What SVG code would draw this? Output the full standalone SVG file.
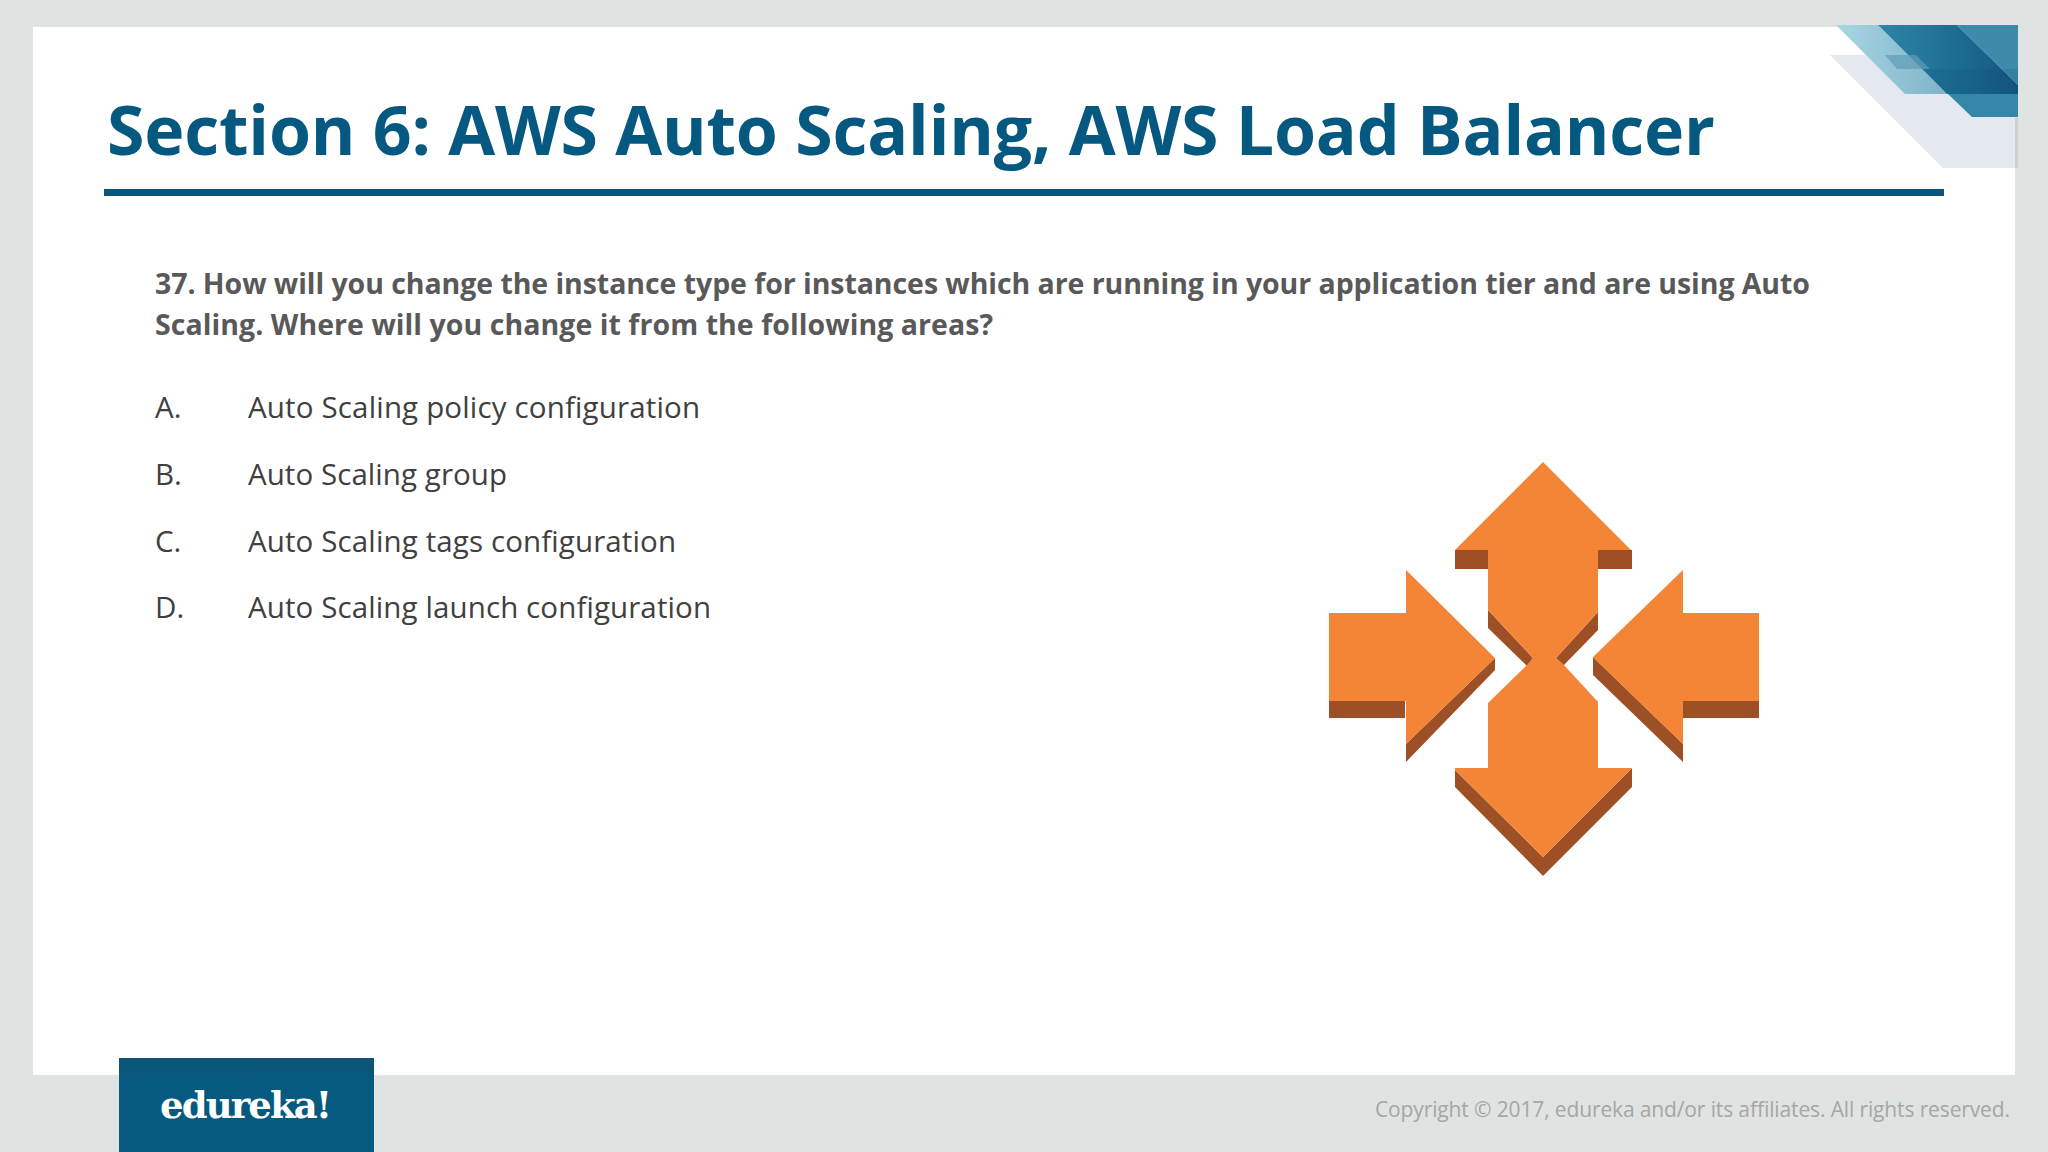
<svg xmlns="http://www.w3.org/2000/svg" width="2048" height="1152" viewBox="0 0 2048 1152">
<defs>
<style>
.t{font-family:"Open Sans","Noto Sans",sans-serif}
.q{font-size:28.5px;font-weight:700;fill:#595959}
.o{font-size:29.5px;fill:#404040}
.f{fill:#f58536}
.s{fill:#9d5025}
</style>
<linearGradient id="g1" x1="0" y1="0" x2="1" y2="0"><stop offset="0" stop-color="#2e86a8"/><stop offset="0.6" stop-color="#1c6a90"/><stop offset="1" stop-color="#14557e"/></linearGradient>
<linearGradient id="g2" x1="0" y1="0" x2="1" y2="0"><stop offset="0" stop-color="#a8d6e4"/><stop offset="1" stop-color="#7fb3c8"/></linearGradient>
<linearGradient id="g3" x1="0" y1="0" x2="0" y2="1"><stop offset="0" stop-color="#0d5576"/><stop offset="0.25" stop-color="#06597f"/></linearGradient>
</defs>
<rect width="2048" height="1152" fill="#dfe3e2"/>
<rect x="33" y="27" width="1982" height="1048" fill="#fff"/>
<g id="corner">
<polygon points="1830,55 2015,55 2015,168 1943,168" fill="#e4e9ef"/>
<rect x="2015" y="118" width="3" height="50" fill="#cdd1d6"/>
<polygon points="1836,25 1878,25 1947,94 1905,94" fill="url(#g2)"/>
<polygon points="1948,94 2018,94 2018,117 1972,117" fill="#3587a9"/>
<polygon points="1878,25 1957,25 2018,85 2018,94 1947,94" fill="url(#g1)"/>
<polygon points="1957,25 2018,25 2018,85" fill="#3d8aab"/>
<polygon points="1885,55 1916,55 1930,69 1897,69" fill="#5f9db5" opacity=".7"/>
<polygon points="1925,69 2018,69 2018,94 1947,94" fill="#0d4f78" opacity=".18"/>
</g>
<rect x="104" y="189" width="1840" height="7" fill="#05557f"/>
<text class="t" x="107" y="155" font-size="68" font-weight="700" fill="#05587f" textLength="1608">Section 6: AWS Auto Scaling, AWS Load Balancer</text>
<g id="question">
<text class="t q" x="155" y="294" textLength="1655">37. How will you change the instance type for instances which are running in your application tier and are using Auto</text>
<text class="t q" x="155" y="335" textLength="838">Scaling. Where will you change it from the following areas?</text>
</g>
<g id="options">
<text class="t o" x="155" y="418">A.</text><text class="t o" x="248" y="418" textLength="452">Auto Scaling policy configuration</text>
<text class="t o" x="155" y="485">B.</text><text class="t o" x="248" y="485" textLength="259">Auto Scaling group</text>
<text class="t o" x="155" y="552">C.</text><text class="t o" x="248" y="552" textLength="428">Auto Scaling tags configuration</text>
<text class="t o" x="155" y="618">D.</text><text class="t o" x="248" y="618" textLength="463">Auto Scaling launch configuration</text>
</g>
<g id="autoscaling-icon">
<polygon class="s" points="1455,550 1488,550 1488,569 1455,569"/>
<polygon class="s" points="1598,550 1632,550 1632,569 1598,569"/>
<polygon class="s" points="1488,610 1533,658 1527,666 1488,628"/>
<polygon class="s" points="1598,612 1556,658 1563,666 1598,630"/>
<polygon class="f" points="1543,462 1631,550 1598,550 1598,612 1556,658 1533,658 1488,610 1488,550 1455,550"/>
<polygon class="s" points="1329,701 1405,701 1405,718 1329,718"/>
<polygon class="s" points="1406,744 1495,658 1495,670 1406,762"/>
<polygon class="f" points="1329,613 1406,613 1406,570 1495,658 1406,744 1406,701 1329,701"/>
<polygon class="s" points="1759,701 1683,701 1683,718 1759,718"/>
<polygon class="s" points="1683,744 1593,657 1593,675 1683,762"/>
<polygon class="f" points="1759,613 1683,613 1683,570 1593,657 1683,744 1683,701 1759,701"/>
<polygon class="s" points="1455,770 1543,857 1632,768 1632,787 1543,876 1455,787"/>
<polygon class="f" points="1528,664 1533,658 1556,658 1563,664 1598,702 1598,768 1632,768 1543,857 1455,770 1455,768 1488,768 1488,703"/>
</g>
<g id="logo">
<rect x="119" y="1058" width="255" height="94" fill="url(#g3)"/>
<text x="160" y="1118" font-family="'DejaVu Serif',serif" font-weight="700" font-size="37" fill="#fff" textLength="172">edureka!</text>
</g>
<text class="t" x="1375" y="1117" font-size="21" fill="#a6a6a6" textLength="635">Copyright © 2017, edureka and/or its affiliates. All rights reserved.</text>
</svg>
